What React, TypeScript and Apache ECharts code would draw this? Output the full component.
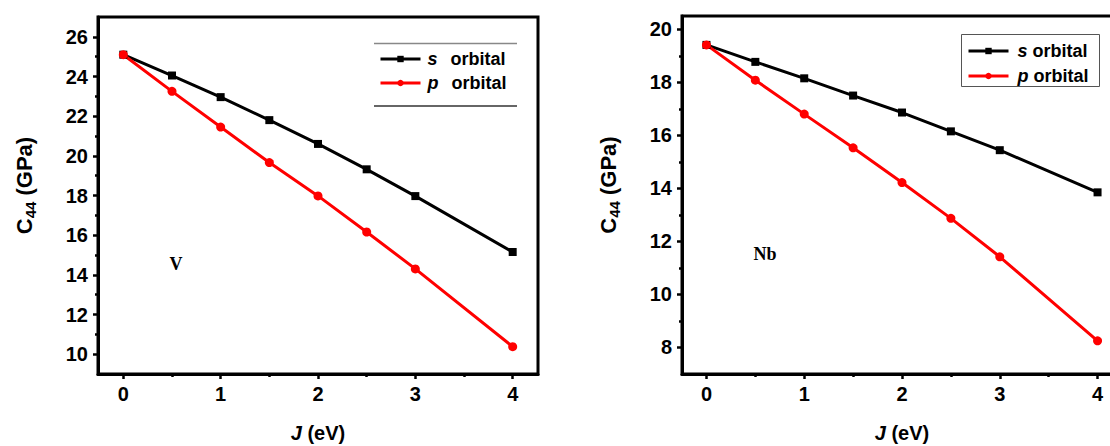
import React, { useEffect, useRef } from "react";
import * as echarts from "echarts";

// ---- data ----
const J = [0, 0.5, 1, 1.5, 2, 2.5, 3, 4];
const vS = [25.1, 24.05, 22.96, 21.8, 20.6, 19.32, 17.97, 15.15];
const vP = [25.1, 23.25, 21.45, 19.66, 17.98, 16.16, 14.3, 10.38];
const nbS = [19.41, 18.77, 18.15, 17.5, 16.86, 16.15, 15.44, 13.85];
const nbP = [19.41, 18.08, 16.8, 15.53, 14.22, 12.87, 11.42, 8.25];

const xMajor = [0, 1, 2, 3, 4];
const xMinor = [0.5, 1.5, 2.5, 3.5];
const vYMajor = [10, 12, 14, 16, 18, 20, 22, 24, 26];
const vYMinor = [11, 13, 15, 17, 19, 21, 23, 25];
const nbYMajor = [8, 10, 12, 14, 16, 18, 20];
const nbYMinor = [9, 11, 13, 15, 17, 19];

const seriesNames = ["s orbital", "p orbital"];
const panelLabels = ["V", "Nb"];

const FONT = "'Liberation Sans', Arial, sans-serif";
const SERIF = "'Liberation Serif', 'Times New Roman', serif";

function pairs(xs: number[], ys: number[]) {
  return xs.map((x, i) => [x, ys[i]]);
}

function xAxes(grid: number, min: number, max: number) {
  return [
    {
      gridIndex: grid,
      type: "value",
      position: "bottom",
      min,
      max,
      axisLine: { show: true, onZero: false, lineStyle: { color: "#000", width: 3 } },
      axisTick: { show: true, customValues: xMajor, length: 5, lineStyle: { color: "#000", width: 2.5 } },
      axisLabel: { show: true, customValues: xMajor, margin: 10, fontSize: 20, fontWeight: "bold", color: "#000", fontFamily: FONT },
      splitLine: { show: false },
      name: "{i|J} (eV)",
      nameLocation: "middle",
      nameGap: 49,
      nameTextStyle: {
        fontSize: 20,
        fontWeight: "bold",
        color: "#000",
        fontFamily: FONT,
        lineHeight: 20,
        rich: { i: { fontSize: 20, fontWeight: "bold", fontStyle: "italic", color: "#000", fontFamily: FONT, lineHeight: 20 } },
      },
    },
    {
      gridIndex: grid,
      type: "value",
      position: "bottom",
      min,
      max,
      axisLine: { show: false, onZero: false },
      axisTick: { show: true, customValues: xMinor, length: 3, lineStyle: { color: "#000", width: 2.5 } },
      axisLabel: { show: false },
      splitLine: { show: false },
    },
  ];
}

function yAxes(grid: number, min: number, max: number, major: number[], minor: number[]) {
  return [
    {
      gridIndex: grid,
      type: "value",
      position: "left",
      min,
      max,
      axisLine: { show: true, onZero: false, lineStyle: { color: "#000", width: 3 } },
      axisTick: { show: true, customValues: major, length: 5, lineStyle: { color: "#000", width: 2.5 } },
      axisLabel: { show: true, customValues: major, margin: 10, fontSize: 20, fontWeight: "bold", color: "#000", fontFamily: FONT },
      splitLine: { show: false },
      name: "{a|C}{b|44}{a| (GPa)}",
      nameLocation: "middle",
      nameGap: 60,
      nameTextStyle: {
        color: "#000",
        padding: [0, 0, 0, 20],
        rich: {
          a: { fontSize: 22, fontWeight: "bold", color: "#000", fontFamily: FONT, lineHeight: 28, verticalAlign: "middle" },
          b: { fontSize: 15, fontWeight: "bold", color: "#000", fontFamily: FONT, lineHeight: 15, verticalAlign: "bottom" },
        },
      },
    },
    {
      gridIndex: grid,
      type: "value",
      position: "left",
      min,
      max,
      axisLine: { show: false, onZero: false },
      axisTick: { show: true, customValues: minor, length: 3, lineStyle: { color: "#000", width: 2.5 } },
      axisLabel: { show: false },
      splitLine: { show: false },
    },
  ];
}

function lineSeries(name: string, xIdx: number, yIdx: number, data: number[][], color: string, symbol: string, size: number) {
  return {
    type: "line",
    name,
    xAxisIndex: xIdx,
    yAxisIndex: yIdx,
    data,
    symbol,
    symbolSize: size,
    lineStyle: { color, width: 3 },
    itemStyle: { color },
    emphasis: { disabled: true },
  };
}

function legendCfg(left: number, top: number, gap: number, lead: number, spacing: number) {
  return {
    data: seriesNames,
    orient: "vertical",
    left,
    top,
    padding: 0,
    itemWidth: 40,
    itemHeight: 8,
    itemGap: gap,
    selectedMode: false,
    lineStyle: { width: 3 },
    formatter: (n: string) => `{i|${n.split(" ")[0]}}{r|orbital}`,
    textStyle: {
      fontSize: 18,
      fontWeight: "bold",
      color: "#000",
      fontFamily: FONT,
      lineHeight: 20,
      rich: {
        i: { fontSize: 18, fontWeight: "bold", fontStyle: "italic", color: "#000", fontFamily: FONT, lineHeight: 20, padding: [0, 0, 0, lead] },
        r: { fontSize: 18, fontWeight: "bold", color: "#000", fontFamily: FONT, lineHeight: 20, padding: [0, 0, 0, spacing] },
      },
    },
  };
}

export default function App() {
  const ref = useRef<HTMLDivElement>(null);
  useEffect(() => {
    document.body.style.margin = "0";
    if (!ref.current) return;
    const chart = echarts.init(ref.current, null, { renderer: "svg" });
    const option: any = {
      animation: false,
      backgroundColor: "#fff",
      grid: [
        { left: 98, top: 17, width: 440, height: 357, containLabel: false, outerBoundsMode: "none", show: true, borderColor: "#000", borderWidth: 3, backgroundColor: "transparent" },
        { left: 682, top: 16, width: 440, height: 358, containLabel: false, outerBoundsMode: "none", show: true, borderColor: "#000", borderWidth: 3, backgroundColor: "transparent" },
      ],
      xAxis: [...xAxes(0, -0.26, 4.26), ...xAxes(1, -0.25, 4.25)],
      yAxis: [...yAxes(0, 9, 27, vYMajor, vYMinor), ...yAxes(1, 7, 20.5, nbYMajor, nbYMinor)],
      legend: [legendCfg(379, 49, 4, 2, 13), legendCfg(967, 41, 5, 4, 5)],
      series: [
        lineSeries(seriesNames[0], 0, 0, pairs(J, vS), "#000000", "rect", 8),
        lineSeries(seriesNames[1], 0, 0, pairs(J, vP), "#ff0000", "circle", 9),
        lineSeries(seriesNames[0], 2, 2, pairs(J, nbS), "#000000", "rect", 8),
        lineSeries(seriesNames[1], 2, 2, pairs(J, nbP), "#ff0000", "circle", 9),
      ],
      graphic: [
        { type: "line", shape: { x1: 374, y1: 43.5, x2: 517, y2: 43.5 }, style: { stroke: "#888", lineWidth: 1.5 } },
        { type: "line", shape: { x1: 374, y1: 106, x2: 517, y2: 106 }, style: { stroke: "#333", lineWidth: 1.5 } },
        { type: "rect", shape: { x: 961.5, y: 34.5, width: 138, height: 52 }, style: { fill: "none", stroke: "#555", lineWidth: 1 } },
        { type: "text", x: 176, y: 264, style: { text: panelLabels[0], fontSize: 18, fontWeight: "bold", fontFamily: SERIF, fill: "#000", align: "center", verticalAlign: "middle" } },
        { type: "text", x: 765, y: 254, style: { text: panelLabels[1], fontSize: 18, fontWeight: "bold", fontFamily: SERIF, fill: "#000", align: "center", verticalAlign: "middle" } },
      ],
    };
    chart.setOption(option);
    return () => chart.dispose();
  }, []);
  return <div ref={ref} style={{ width: 1110, height: 446 }} />;
}
